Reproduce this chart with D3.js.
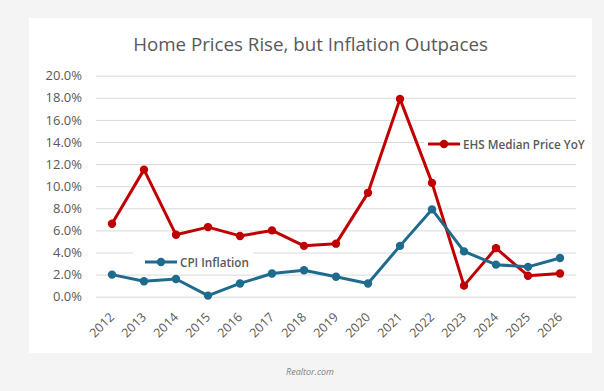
<!DOCTYPE html>
<html><head><meta charset="utf-8">
<script src="https://cdn.jsdelivr.net/npm/d3@7"></script>
<style>
html,body{margin:0;padding:0;background:#f4f4f4;}
svg{display:block;}
</style></head>
<body>
<script>
const years = ["2012","2013","2014","2015","2016","2017","2018","2019","2020","2021","2022","2023","2024","2025","2026"];
const ehsMedianPrice = [6.6,11.5,5.6,6.3,5.5,6.0,4.6,4.8,9.4,17.9,10.3,1.0,4.4,1.9,2.1];
const cpiInflation = [2.0,1.4,1.6,0.1,1.2,2.1,2.4,1.8,1.2,4.6,7.9,4.1,2.9,2.7,3.5];
const yTicks = [0,2,4,6,8,10,12,14,16,18,20];
const seriesNames = ["EHS Median Price YoY","CPI Inflation"];

const W=604,H=391;
const svg=d3.select("body").append("svg").attr("width",W).attr("height",H);
svg.append("rect").attr("width",W).attr("height",H).attr("fill","#f4f4f4");
svg.append("rect").attr("x",29).attr("y",18).attr("width",563).attr("height",335).attr("fill","#ffffff");

const x=d3.scaleBand().domain(years).range([96,576]).padding(0);
const cx=d=>x(d)+x.bandwidth()/2;
const y=d3.scaleLinear().domain([0,20]).range([296.7,75.7]);

const grey="#595959";
const ya=svg.append("g").attr("transform","translate(96,0)")
  .call(d3.axisLeft(y).tickValues(yTicks).tickSize(-480).tickPadding(14).tickFormat(d=>d.toFixed(1)+"%"));
ya.select(".domain").remove();
ya.selectAll(".tick line").attr("stroke","#d9d9d9").attr("stroke-width",1);
ya.selectAll(".tick text").attr("fill",grey).attr("font-family","Open Sans").attr("font-size",13);

const xa=svg.append("g").attr("transform","translate(0,297)")
  .call(d3.axisBottom(x).tickSize(0).tickPadding(0));
xa.select(".domain").remove();
xa.selectAll(".tick text").attr("fill",grey).attr("font-family","Open Sans").attr("font-size",12.5)
  .attr("text-anchor","end").attr("dy",null).attr("y",null)
  .attr("transform","translate(3,21) rotate(-45)");

const title=svg.append("text").attr("x",310.5).attr("y",51).attr("text-anchor","middle")
  .attr("fill",grey).attr("font-family","Open Sans").attr("font-size",19)
  .text("Home Prices Rise, but Inflation Outpaces");
{const w=title.node().getComputedTextLength(); title.attr("font-size",19*355/w);}

const colors=["#c00000","#1f6b8e"];
const legends=[{bx:424,by:132,bw:168,bh:24,lx:428,ly:144,tw:122},{bx:133,by:250,bw:120,bh:24,lx:145,ly:262,tw:69}];
legends.forEach(L=>{
  svg.append("rect").attr("x",L.bx).attr("y",L.by).attr("width",L.bw).attr("height",L.bh).attr("fill","#fff");
});

const data=[ehsMedianPrice,cpiInflation];
const line=d3.line().x((d,i)=>cx(years[i])).y(d=>y(d));
data.forEach((vals,k)=>{
  svg.append("path").datum(vals).attr("d",line).attr("fill","none")
    .attr("stroke",colors[k]).attr("stroke-width",3).attr("stroke-linejoin","round");
  svg.append("g").selectAll("circle").data(vals).join("circle")
    .attr("cx",(d,i)=>cx(years[i])).attr("cy",d=>y(d)).attr("r",4.2).attr("fill",colors[k]);
});

legends.forEach((L,k)=>{
  const g=svg.append("g");
  g.append("line").attr("x1",L.lx).attr("x2",L.lx+32).attr("y1",L.ly).attr("y2",L.ly)
    .attr("stroke",colors[k]).attr("stroke-width",3);
  g.append("circle").attr("cx",L.lx+16).attr("cy",L.ly).attr("r",4.2).attr("fill",colors[k]);
  const t=g.append("text").attr("x",L.lx+35).attr("y",L.ly+4.5).attr("fill",grey)
    .attr("font-family","Open Sans").attr("font-weight",600).attr("font-size",12).text(seriesNames[k]);
  const w=t.node().getComputedTextLength(); t.attr("font-size",12*L.tw/w);
});

svg.append("text").attr("x",310).attr("y",375).attr("text-anchor","middle")
  .attr("fill","#7f7f7f").attr("font-family","Open Sans").attr("font-style","italic").attr("font-size",9)
  .text("Realtor.com");
</script>
</body></html>
